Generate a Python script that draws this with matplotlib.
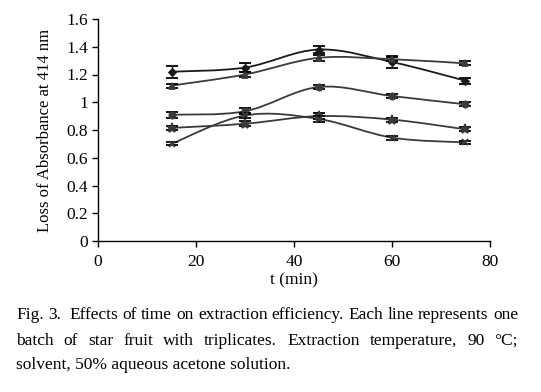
import numpy as np
import matplotlib
matplotlib.use("Agg")
import matplotlib.pyplot as plt
from matplotlib.path import Path
from matplotlib.patches import PathPatch

plt.rcParams['font.family'] = ['Liberation Serif', 'DejaVu Serif']

t = [15, 30, 45, 60, 75]
s_diamond = [1.22, 1.25, 1.38, 1.29, 1.155]
e_diamond = [0.042, 0.03, 0.028, 0.042, 0.02]
s_triangle = [1.12, 1.20, 1.32, 1.31, 1.28]
e_triangle = [0.015, 0.02, 0.02, 0.015, 0.015]
s_circle = [0.91, 0.935, 1.11, 1.045, 0.985]
e_circle = [0.02, 0.02, 0.015, 0.015, 0.015]
s_star = [0.815, 0.845, 0.90, 0.875, 0.805]
e_star = [0.012, 0.018, 0.02, 0.015, 0.015]
s_x = [0.70, 0.905, 0.88, 0.745, 0.71]
e_x = [0.01, 0.02, 0.02, 0.015, 0.012]

series = [
    (s_diamond, e_diamond, 'D', 3.5, '#1a1a1a'),
    (s_triangle, e_triangle, '^', 4.5, '#3a3a3a'),
    (s_circle, e_circle, 'o', 4.5, '#3a3a3a'),
    (s_star, e_star, '*', 6.5, '#3a3a3a'),
    (s_x, e_x, 'x', 4.5, '#3a3a3a'),
]

x_ticks = [0, 20, 40, 60, 80]
y_ticks = [0, 0.2, 0.4, 0.6, 0.8, 1, 1.2, 1.4, 1.6]
y_ticklabels = ['0', '0.2', '0.4', '0.6', '0.8', '1', '1.2', '1.4', '1.6']

W, H = 541, 392
fig = plt.figure(figsize=(W / 100, H / 100), dpi=100)
ax = fig.add_axes([98 / W, (H - 241) / H, (490 - 98) / W, (241 - 19) / H])


def smooth_path(xs, ys):
    pts = np.column_stack([xs, ys]).astype(float)
    n = len(pts)
    verts = [pts[0]]
    codes = [Path.MOVETO]
    for i in range(n - 1):
        p0 = pts[i - 1] if i > 0 else pts[i]
        p1 = pts[i]
        p2 = pts[i + 1]
        p3 = pts[i + 2] if i + 2 < n else pts[i + 1]
        c1 = p1 + (p2 - p0) / 6.0
        c2 = p2 - (p3 - p1) / 6.0
        verts += [c1, c2, p2]
        codes += [Path.CURVE4] * 3
    return Path(verts, codes)


for ys, es, m, ms, col in series:
    ax.add_patch(PathPatch(smooth_path(t, ys), fill=False, lw=1.3, edgecolor=col))
    ax.errorbar(t, ys, yerr=es, fmt='none', ecolor='black', elinewidth=1.0,
                capsize=4, capthick=1.3)
    ax.plot(t, ys, linestyle='none', marker=m, markersize=ms, color=col,
            markeredgewidth=1.3)

ax.set_xlim(0, 80)
ax.set_ylim(0, 1.6)
ax.set_xticks(x_ticks)
ax.set_yticks(y_ticks)
ax.set_yticklabels(y_ticklabels)
for s in ['top', 'right']:
    ax.spines[s].set_visible(False)
for s in ['left', 'bottom']:
    ax.spines[s].set_linewidth(1.0)
ax.tick_params(direction='out', length=4, width=1.0, labelsize=12.5, pad=3)
ax.tick_params(axis='x', pad=5)
ax.set_xlabel('t (min)', fontsize=12.5, labelpad=2)
ax.set_ylabel('Loss of Absorbance at 414 nm', fontsize=12, labelpad=10)

# caption (justified)
lines = [
    ("Fig. 3.  Effects of time on extraction efficiency. Each line represents one", True),
    ("batch of star fruit with triplicates. Extraction temperature, 90 \u00b0C;", True),
    ("solvent, 50% aqueous acetone solution.", False),
]
ys_px = [315, 341, 365]
x0, x1 = 16, 518
fig.canvas.draw()
renderer = fig.canvas.get_renderer()
for (line, justify), ypx in zip(lines, ys_px):
    yf = (H - ypx) / H
    if not justify:
        fig.text(x0 / W, yf, line, fontsize=12.5, va='center', ha='left')
        continue
    words = line.split(' ')
    extra = [1 if (i + 1 < len(words) and words[i + 1] == '') else 0 for i in range(len(words))]
    pairs = [(w, e) for w, e in zip(words, extra) if w != '']
    txts = [fig.text(0, yf, w, fontsize=12.5, va='center', ha='left') for w, _ in pairs]
    widths = [tx.get_window_extent(renderer).width for tx in txts]
    nextra = sum(e for _, e in pairs)
    gap = (x1 - x0 - sum(widths) - nextra * 4) / (len(pairs) - 1)
    x = x0
    for tx, w, (_, e) in zip(txts, widths, pairs):
        tx.set_x(x / W)
        x += w + gap + e * 4

fig.savefig('out.png', dpi=100)
